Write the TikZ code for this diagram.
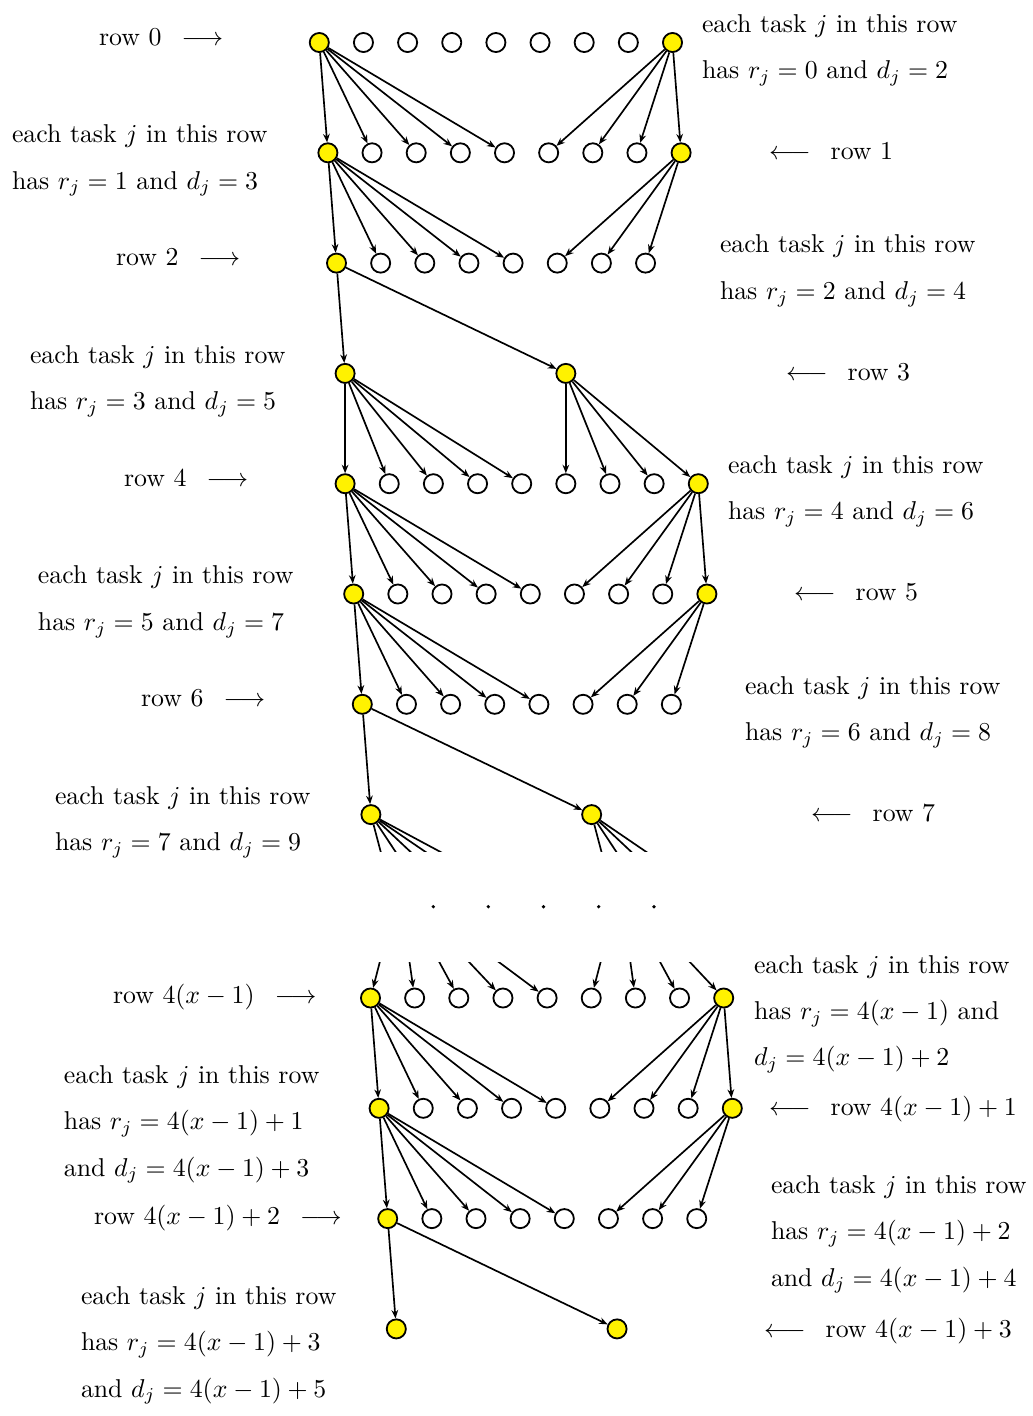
\documentclass[tikz,border=0pt]{standalone}
\usetikzlibrary{arrows.meta}
\tikzset{
  ystate/.style={circle,draw,fill=yellow,line width=0.7pt,minimum size=7.4pt,inner sep=0pt},
  wstate/.style={circle,draw,fill=white,line width=0.7pt,minimum size=7.4pt,inner sep=0pt},
  edge/.style={line width=0.65pt,-{Stealth[length=3.3pt,width=2.6pt]}},
  plainedge/.style={line width=0.65pt},
  txt/.style={anchor=base west,inner sep=0pt,outer sep=0pt},
  dotmark/.style={circle,fill=black,draw=none,inner sep=0pt,minimum size=1.4pt}
}
\newcommand\taskrowfull[3]{%
  \node[ystate] (#1-0) at (#2,#3) {};
  \foreach \k in {1,...,7}{\node[wstate] (#1-\k) at ({#2+44.15*\k},#3) {};}
  \node[ystate] (#1-8) at ({#2+353.2},#3) {};}
\newcommand\taskrowshort[3]{%
  \node[ystate] (#1-0) at (#2,#3) {};
  \foreach \k in {1,...,7}{\node[wstate] (#1-\k) at ({#2+44.15*\k},#3) {};}}
\newcommand\taskrowpair[3]{%
  \node[ystate] (#1-0) at (#2,#3) {};
  \node[ystate] (#1-5) at ({#2+220.75},#3) {};}
\newcommand\fanfull[2]{%
  \foreach \k in {0,...,4}{\draw[edge] (#1-0) -- (#2-\k);}
  \foreach \k in {5,...,8}{\draw[edge] (#1-8) -- (#2-\k);}}
\newcommand\fanshort[2]{%
  \foreach \k in {0,...,4}{\draw[edge] (#1-0) -- (#2-\k);}
  \foreach \k in {5,...,7}{\draw[edge] (#1-8) -- (#2-\k);}}
\newcommand\fansplit[2]{%
  \draw[edge] (#1-0) -- (#2-0);
  \draw[edge] (#1-0) -- (#2-5);}
\newcommand\fanpair[2]{%
  \foreach \k in {0,...,4}{\draw[edge] (#1-0) -- (#2-\k);}
  \foreach \k in {5,...,8}{\draw[edge] (#1-5) -- (#2-\k);}}
\begin{document}
\begin{tikzpicture}[x=0.3876pt,y=-0.3876pt]
\useasboundingbox (0,0) rectangle (1033,1416);
% ---------- rows of tasks ----------
\taskrowfull{ra}{319.3}{42.5}
\taskrowfull{rb}{327.9}{152.8}
\taskrowshort{rc}{336.5}{263.1}
\taskrowpair{rd}{345.1}{373.4}
\taskrowfull{re}{345.1}{483.7}
\taskrowfull{rf}{353.7}{594.0}
\taskrowshort{rg}{362.3}{704.3}
\taskrowpair{rh}{370.9}{814.6}
\taskrowfull{la}{370.5}{998.0}
\taskrowfull{lb}{379.1}{1108.3}
\taskrowshort{lc}{387.7}{1218.6}
\taskrowpair{ld}{396.3}{1328.9}
% ---------- connectors ----------
\fanfull{ra}{rb}
\fanshort{rb}{rc}
\fansplit{rc}{rd}
\fanpair{rd}{re}
\fanfull{re}{rf}
\fanshort{rf}{rg}
\fansplit{rg}{rh}
\fanfull{la}{lb}
\fanshort{lb}{lc}
\fansplit{lc}{ld}
% hidden continuation below row 7
\foreach \k in {0,...,8}{\coordinate (hi-\k) at ({400+44.15*\k},924.9);}
\begin{scope}
  \clip (0,0) rectangle (1033,851.7);
  \foreach \k in {0,...,4}{\draw[plainedge] (rh-0) -- (hi-\k);}
  \foreach \k in {5,...,8}{\draw[plainedge] (rh-5) -- (hi-\k);}
\end{scope}
% hidden sources above row 4(x-1)
\coordinate (src-0) at (399,887.7);
\coordinate (src-5) at (620,887.7);
\begin{scope}
  \clip (0,962) rectangle (1033,1416);
  \foreach \k in {0,...,4}{\draw[edge] (src-0) -- (la-\k);}
  \foreach \k in {5,...,8}{\draw[edge] (src-5) -- (la-\k);}
\end{scope}
% dots
\node[dotmark] (dta) at (433.3,906.7) {};
\node[dotmark] (dtb) at (488.3,906.7) {};
\node[dotmark] (dtc) at (543.5,906.7) {};
\node[dotmark] (dtd) at (598.7,906.7) {};
\node[dotmark] (dte) at (654.0,906.7) {};
% ---------- labels: upper block ----------
\node[txt] (lra) at (99,45) {row 0\hspace{7.8pt}$\longrightarrow$};
\node[txt] (lrc) at (116,265.6) {row 2\hspace{7.8pt}$\longrightarrow$};
\node[txt] (lre) at (124,486.2) {row 4\hspace{7.8pt}$\longrightarrow$};
\node[txt] (lrg) at (141,706.8) {row 6\hspace{7.8pt}$\longrightarrow$};
\node[txt] (lrb) at (769,159.5) {$\longleftarrow$\hspace{7.8pt}row 1};
\node[txt] (lrd) at (786,380.1) {$\longleftarrow$\hspace{7.8pt}row 3};
\node[txt] (lrf) at (794,600.7) {$\longleftarrow$\hspace{7.8pt}row 5};
\node[txt] (lrh) at (811,821.3) {$\longleftarrow$\hspace{7.8pt}row 7};
\node[txt] (ta1) at (702,32.2) {each task $j$ in this row};
\node[txt] (ta2) at (702,78.7) {has $r_j=0$ and $d_j=2$};
\node[txt] (tb1) at (12,142.5) {each task $j$ in this row};
\node[txt] (tb2) at (12,189) {has $r_j=1$ and $d_j=3$};
\node[txt] (tc1) at (720,252.8) {each task $j$ in this row};
\node[txt] (tc2) at (720,299.3) {has $r_j=2$ and $d_j=4$};
\node[txt] (td1) at (30,363.1) {each task $j$ in this row};
\node[txt] (td2) at (30,409.6) {has $r_j=3$ and $d_j=5$};
\node[txt] (te1) at (728,473.4) {each task $j$ in this row};
\node[txt] (te2) at (728,519.9) {has $r_j=4$ and $d_j=6$};
\node[txt] (tf1) at (38,583.7) {each task $j$ in this row};
\node[txt] (tf2) at (38,630.2) {has $r_j=5$ and $d_j=7$};
\node[txt] (tg1) at (745,694.0) {each task $j$ in this row};
\node[txt] (tg2) at (745,740.5) {has $r_j=6$ and $d_j=8$};
\node[txt] (th1) at (55,804.3) {each task $j$ in this row};
\node[txt] (th2) at (55,850.8) {has $r_j=7$ and $d_j=9$};
% ---------- labels: lower block ----------
\node[txt] (lla) at (113,1003) {row $4(x-1)$\hspace{7.8pt}$\longrightarrow$};
\node[txt] (llc) at (94,1224) {row $4(x-1)+2$\hspace{7.8pt}$\longrightarrow$};
\node[txt] (llb) at (769,1115.5) {$\longleftarrow$\hspace{7.8pt}row $4(x-1)+1$};
\node[txt] (lld) at (764,1337) {$\longleftarrow$\hspace{7.8pt}row $4(x-1)+3$};
\node[txt] (ua1) at (754,973.5) {each task $j$ in this row};
\node[txt] (ua2) at (754,1019.5) {has $r_j=4(x-1)$ and};
\node[txt] (ua3) at (754,1065.5) {$d_j=4(x-1)+2$};
\node[txt] (ub1) at (64,1083) {each task $j$ in this row};
\node[txt] (ub2) at (64,1129.5) {has $r_j=4(x-1)+1$};
\node[txt] (ub3) at (64,1176) {and $d_j=4(x-1)+3$};
\node[txt] (uc1) at (771,1193) {each task $j$ in this row};
\node[txt] (uc2) at (771,1239.5) {has $r_j=4(x-1)+2$};
\node[txt] (uc3) at (771,1286) {and $d_j=4(x-1)+4$};
\node[txt] (ud1) at (81,1304) {each task $j$ in this row};
\node[txt] (ud2) at (81,1350.5) {has $r_j=4(x-1)+3$};
\node[txt] (ud3) at (81,1397) {and $d_j=4(x-1)+5$};
\end{tikzpicture}
\end{document}
